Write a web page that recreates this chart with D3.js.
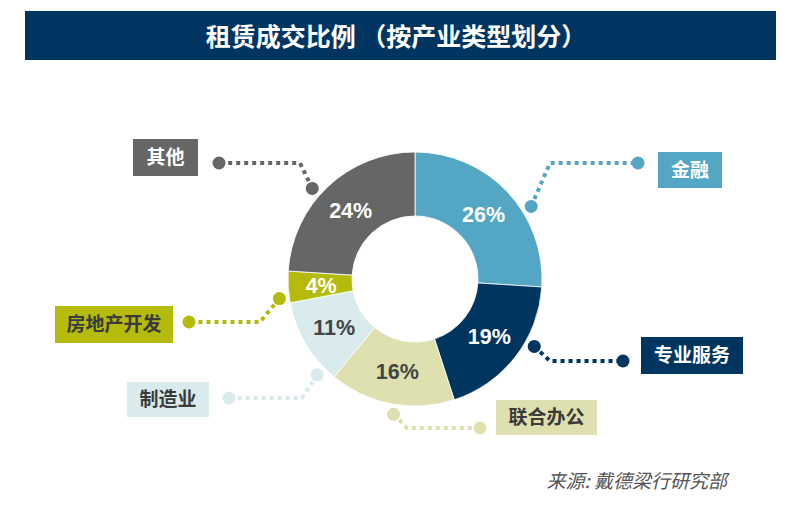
<!DOCTYPE html>
<html><head><meta charset="utf-8">
<script src="https://cdn.jsdelivr.net/npm/d3@7"></script>
<style>html,body{margin:0;padding:0;background:#fff;}svg{display:block;}</style>
</head><body>
<svg id="c" width="800" height="521"></svg>
<script>
const title = "租赁成交比例 （按产业类型划分）";
const source = "来源: 戴德梁行研究部";
const categories = ["金融", "专业服务", "联合办公", "制造业", "房地产开发", "其他"];
const values = [26, 19, 16, 11, 4, 24];
const colors = ["#53a7c5", "#00355f", "#dfe0b0", "#d9ebec", "#b4bb0a", "#666666"];
const pctTextColors = ["#fff", "#fff", "#444", "#444", "#fff", "#fff"];
const boxTextColors = ["#fff", "#fff", "#3a3a3a", "#3a3a3a", "#3a3a3a", "#fff"];

// callout layout (angle in degrees clockwise from top, elbow, outer dot, box)
const callouts = [
  {ang: 58,    elbow: [550, 163], end: [638, 163], box: [658, 152, 64, 36]},
  {ang: 119.5, elbow: [550, 361], end: [623, 361], box: [641, 337, 102, 37]},
  {ang: 189,   elbow: [407, 428], end: [480, 428], box: [496, 400, 101, 35]},
  {ang: 225.6, elbow: [302, 398], end: [229, 398], box: [127, 382, 82, 35]},
  {ang: 261.8, elbow: [260, 322], end: [189, 322], box: [55, 306, 118, 37]},
  {ang: 311.4, elbow: [300, 163], end: [219, 163], box: [133, 139, 65, 37]}
];

const svg = d3.select("#c");
const cx = 415, cy = 279, R = 127, r = 63;

// title bar
svg.append("rect").attr("x", 25).attr("y", 11).attr("width", 751).attr("height", 49).attr("fill", "#003562");
svg.append("text").attr("x", 396).attr("y", 37).attr("dy", "0.36em").attr("text-anchor", "middle")
  .attr("fill", "#fff").attr("font-family", "'Noto Sans CJK SC', sans-serif")
  .attr("font-weight", "bold").attr("font-size", 25).text(title);

const data = categories.map((c, i) => ({cat: c, v: values[i], i}));
const pie = d3.pie().value(d => d.v).sort(null);
const arcs = pie(data);
const arc = d3.arc().innerRadius(r).outerRadius(R);
const labelArc = d3.arc().innerRadius(94).outerRadius(94);

const g = svg.append("g").attr("transform", `translate(${cx},${cy})`);
g.selectAll("path").data(arcs).join("path")
  .attr("d", arc).attr("fill", d => colors[d.data.i])
  .attr("stroke", "#fff").attr("stroke-width", 0.8);

g.selectAll("text.pct").data(arcs).join("text").attr("class", "pct")
  .attr("transform", d => `translate(${labelArc.centroid(d)})`)
  .attr("text-anchor", "middle").attr("dy", "0.36em")
  .attr("font-family", "'Liberation Sans', Arial, sans-serif")
  .attr("font-weight", "bold").attr("font-size", 21.5)
  .attr("fill", d => pctTextColors[d.data.i])
  .text(d => d.data.v + "%");

// callouts
const rDot = R + 10;
callouts.forEach((c, i) => {
  const a = c.ang * Math.PI / 180;
  const p0 = [cx + rDot * Math.sin(a), cy - rDot * Math.cos(a)];
  const col = colors[i];
  svg.append("path")
    .attr("d", d3.line()([p0, c.elbow, c.end]))
    .attr("fill", "none").attr("stroke", col).attr("stroke-width", 4)
    .attr("stroke-dasharray", "4,4");
  svg.append("circle").attr("cx", p0[0]).attr("cy", p0[1]).attr("r", 6.5).attr("fill", col);
  svg.append("circle").attr("cx", c.end[0]).attr("cy", c.end[1]).attr("r", 6.5).attr("fill", col);
  const [bx, by, bw, bh] = c.box;
  svg.append("rect").attr("x", bx).attr("y", by).attr("width", bw).attr("height", bh).attr("fill", col);
  svg.append("text").attr("x", bx + bw / 2).attr("y", by + bh / 2).attr("dy", "0.36em")
    .attr("text-anchor", "middle").attr("fill", boxTextColors[i])
    .attr("font-family", "'Noto Sans CJK SC', sans-serif").attr("font-weight", "bold")
    .attr("font-size", 19).text(categories[i]);
});

svg.append("text").attr("x", 727).attr("y", 488).attr("text-anchor", "end")
  .attr("fill", "#555").attr("font-style", "italic")
  .attr("font-family", "'Noto Sans CJK SC', sans-serif").attr("font-size", 19)
  .text(source);
</script>
</body></html>
